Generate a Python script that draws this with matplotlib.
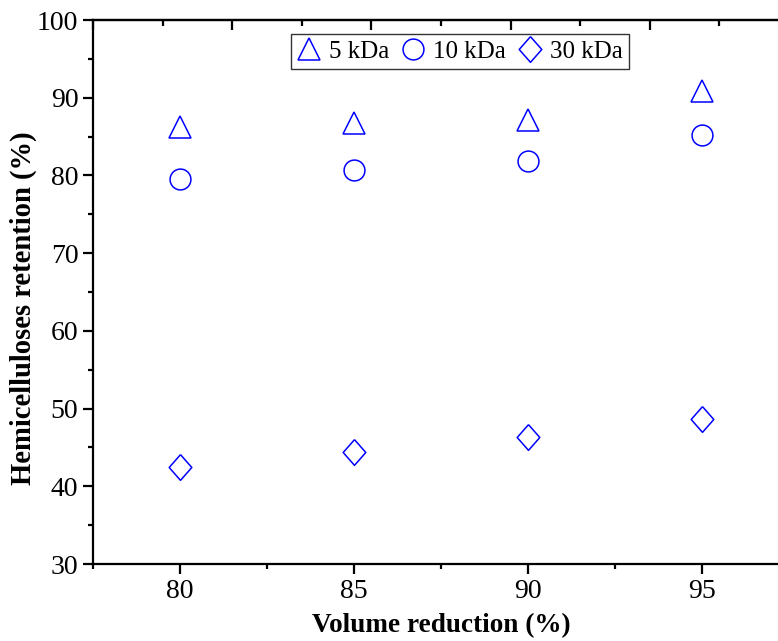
import numpy as np
import matplotlib
matplotlib.use("Agg")
import matplotlib.pyplot as plt
from matplotlib.ticker import MultipleLocator, FixedLocator

# data
volume_reduction = [80, 85, 90, 95]
retention_5kda = [86.2, 86.7, 87.1, 90.8]
retention_10kda = [79.6, 80.7, 81.9, 85.2]
retention_30kda = [42.5, 44.4, 46.4, 48.6]
series_labels = ["5 kDa", "10 kDa", "30 kDa"]

plt.rcParams['font.family'] = ['Liberation Serif', 'DejaVu Serif']
plt.rcParams['mathtext.fontset'] = 'stix'

fig = plt.figure(figsize=(7.78, 6.41), dpi=100)
# axes runs past the right edge of the picture, like the cropped original
ax = fig.add_axes([93/778, 77/641, 696/778, 544/641])

blue = "#0000FF"
diamond = [(0, 1), (0.88, 0), (0, -1), (-0.88, 0), (0, 1)]
ax.plot(volume_reduction, retention_5kda, linestyle="none", marker="^", ms=16,
        mfc="none", mec=blue, mew=1.1, label=series_labels[0])
ax.plot(volume_reduction, retention_10kda, linestyle="none", marker="o", ms=15,
        mfc="none", mec=blue, mew=1.1, label=series_labels[1])
ax.plot(volume_reduction, retention_30kda, linestyle="none", marker=diamond, ms=18.5,
        mfc="none", mec=blue, mew=1.1, label=series_labels[2])

ax.set_xlim(77.5, 97.5)
ax.set_ylim(30, 100)
ax.xaxis.set_major_locator(FixedLocator(volume_reduction))
ax.xaxis.set_minor_locator(MultipleLocator(2.5))
ax.yaxis.set_major_locator(MultipleLocator(10))
ax.yaxis.set_minor_locator(MultipleLocator(5))

for sp in ax.spines.values():
    sp.set_linewidth(1.6)
ax.tick_params(which="major", direction="out", length=7.5, width=1.6, labelsize=20, pad=3)
ax.tick_params(which="minor", direction="out", length=3.5, width=1.6)

# top axis with its own inward ticks (no labels)
top = ax.secondary_xaxis("top")
top.xaxis.set_major_locator(FixedLocator(np.arange(77.5, 98, 4)))
top.xaxis.set_minor_locator(FixedLocator(np.arange(79.5, 98, 4)))
top.tick_params(which="major", direction="in", length=7.5, width=1.6, labeltop=False)
top.tick_params(which="minor", direction="in", length=4, width=1.6)
top.spines["top"].set_linewidth(1.6)

ax.set_xlabel("Volume reduction (%)", fontsize=19.6, fontweight="bold", labelpad=7)
ax.set_ylabel("Hemicelluloses retention (%)", fontsize=20.6, fontweight="bold")
ax.yaxis.set_label_coords(-0.081, 0.47)

leg = ax.legend(loc="upper center", bbox_to_anchor=(0.527, 0.974), ncol=3,
                fontsize=18, frameon=True, fancybox=False, borderaxespad=0,
                handlelength=1.0, handletextpad=0.3, columnspacing=0.45,
                borderpad=0.25, markerscale=1.0)
leg.get_frame().set_edgecolor("black")
leg.get_frame().set_linewidth(1.0)

fig.savefig("out.png", dpi=100)
